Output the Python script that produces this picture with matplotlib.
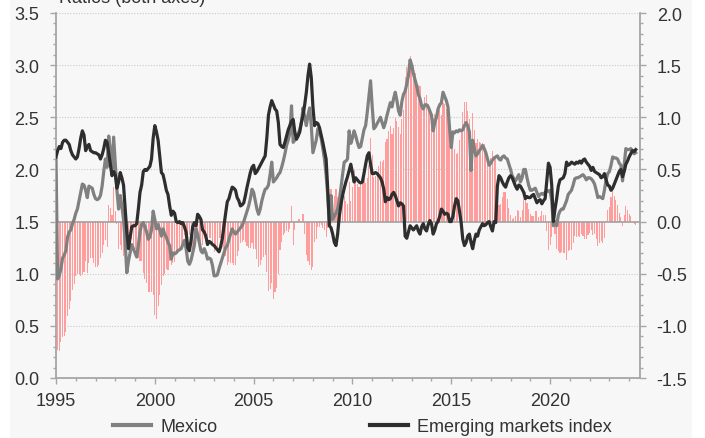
import numpy as np
import matplotlib
matplotlib.use("Agg")
import matplotlib.pyplot as plt
from matplotlib.lines import Line2D
from matplotlib.patches import Rectangle
from matplotlib.ticker import MultipleLocator

plt.rcParams['font.family'] = ['Liberation Sans', 'DejaVu Sans']

start_year = 1995
# Monthly ratios, Jan 1995 .. May 2024
mexico = [
    2.10, 0.95, 0.98, 1.05, 1.15, 1.18, 1.22, 1.35, 1.40, 1.42, 1.48, 1.52,  # 1995
    1.58, 1.62, 1.70, 1.78, 1.86, 1.85, 1.80, 1.73, 1.84, 1.83, 1.82, 1.76,  # 1996
    1.72, 1.71, 1.72, 1.75, 1.84, 1.98, 2.10, 2.02, 2.32, 2.18, 2.00, 2.31,  # 1997
    2.05, 1.80, 1.62, 1.75, 1.65, 1.52, 1.30, 1.01, 1.12, 1.20, 1.28, 1.24,  # 1998
    1.20, 1.16, 1.27, 1.40, 1.47, 1.49, 1.45, 1.40, 1.33, 1.35, 1.42, 1.60,  # 1999
    1.52, 1.43, 1.47, 1.42, 1.36, 1.43, 1.38, 1.35, 1.30, 1.27, 1.14, 1.20,  # 2000
    1.19, 1.20, 1.22, 1.23, 1.24, 1.28, 1.32, 1.24, 1.12, 1.09, 1.13, 1.20,  # 2001
    1.27, 1.43, 1.38, 1.30, 1.22, 1.20, 1.24, 1.20, 1.14, 1.15, 1.14, 1.08,  # 2002
    0.98, 0.98, 0.99, 1.05, 1.10, 1.15, 1.20, 1.25, 1.27, 1.33, 1.38, 1.43,  # 2003
    1.40, 1.38, 1.40, 1.42, 1.44, 1.46, 1.50, 1.55, 1.60, 1.65, 1.72, 1.81,  # 2004
    1.78, 1.70, 1.62, 1.57, 1.62, 1.70, 1.76, 1.81, 1.82, 1.85, 1.95, 2.07,  # 2005
    1.88, 1.90, 1.92, 1.95, 1.97, 2.02, 2.08, 2.15, 2.23, 2.28, 2.35, 2.61,  # 2006
    2.26, 2.28, 2.30, 2.34, 2.38, 2.45, 2.59, 2.50, 2.42, 2.52, 2.59, 2.42,  # 2007
    2.16, 2.22, 2.28, 2.39, 2.35, 2.30, 2.20, 2.10, 1.95, 1.75, 1.46, 1.75,  # 2008
    1.52, 1.55, 1.58, 1.62, 1.70, 1.82, 1.95, 2.07, 2.08, 2.10, 2.37, 2.25,  # 2009
    2.30, 2.37, 2.32, 2.26, 2.21, 2.22, 2.30, 2.38, 2.42, 2.55, 2.70, 2.85,  # 2010
    2.60, 2.39, 2.41, 2.44, 2.47, 2.50, 2.45, 2.40, 2.45, 2.52, 2.58, 2.64,  # 2011
    2.60, 2.68, 2.74, 2.66, 2.56, 2.52, 2.65, 2.72, 2.75, 2.82, 2.90, 3.05,  # 2012
    3.00, 2.92, 2.86, 2.80, 2.72, 2.68, 2.61, 2.58, 2.62, 2.62, 2.60, 2.56,  # 2013
    2.52, 2.37, 2.45, 2.50, 2.58, 2.62, 2.64, 2.74, 2.70, 2.66, 2.60, 2.39,  # 2014
    2.21, 2.36, 2.35, 2.37, 2.36, 2.38, 2.37, 2.38, 2.42, 2.45, 2.42, 2.36,  # 2015
    1.99, 2.28, 2.20, 2.13, 2.15, 2.18, 2.20, 2.23, 2.20, 2.16, 2.10, 2.04,  # 2016
    2.06, 2.09, 2.11, 2.12, 2.13, 2.10, 2.09, 2.12, 2.13, 2.11, 2.10, 2.05,  # 2017
    2.00, 1.94, 1.91, 1.89, 1.92, 1.95, 1.88, 1.92, 2.00, 2.00, 1.92, 1.85,  # 2018
    1.80, 1.80, 1.81, 1.82, 1.78, 1.74, 1.76, 1.77, 1.76, 1.78, 1.80, 1.79,  # 2019
    1.80, 1.70, 1.46, 1.50, 1.46, 1.56, 1.60, 1.62, 1.62, 1.66, 1.70, 1.76,  # 2020
    1.78, 1.80, 1.85, 1.91, 1.92, 1.92, 1.93, 1.94, 1.95, 1.93, 1.90, 1.92,  # 2021
    1.92, 1.91, 1.89, 1.86, 1.80, 1.73, 1.74, 1.73, 1.72, 1.80, 1.90, 1.96,  # 2022
    1.98, 2.04, 2.12, 2.11, 2.11, 2.10, 2.06, 2.04, 1.89, 2.04, 2.20, 2.19,  # 2023
    2.19, 2.20, 2.18, 2.15, 2.16,                                            # 2024
]
emerging = [
    2.12, 2.18, 2.22, 2.20, 2.26, 2.28, 2.28, 2.26, 2.24, 2.18, 2.14, 2.12,  # 1995
    2.10, 2.12, 2.20, 2.30, 2.37, 2.33, 2.18, 2.22, 2.24, 2.18, 2.17, 2.16,  # 1996
    2.16, 2.15, 2.14, 2.10, 2.14, 2.20, 2.28, 2.26, 2.16, 2.05, 1.94, 1.98,  # 1997
    1.95, 1.82, 1.88, 1.97, 1.92, 1.85, 1.62, 1.40, 1.24, 1.35, 1.45, 1.46,  # 1998
    1.46, 1.48, 1.62, 1.78, 1.85, 1.98, 2.00, 1.99, 2.01, 2.03, 2.10, 2.30,  # 1999
    2.42, 2.36, 2.28, 2.12, 1.97, 1.95, 1.88, 1.80, 1.76, 1.65, 1.56, 1.60,  # 2000
    1.58, 1.50, 1.49, 1.50, 1.48, 1.49, 1.45, 1.40, 1.25, 1.22, 1.32, 1.45,  # 2001
    1.49, 1.46, 1.57, 1.55, 1.52, 1.42, 1.40, 1.36, 1.28, 1.31, 1.30, 1.28,  # 2002
    1.27, 1.25, 1.23, 1.21, 1.26, 1.34, 1.46, 1.58, 1.69, 1.72, 1.78, 1.83,  # 2003
    1.82, 1.80, 1.73, 1.70, 1.65, 1.66, 1.68, 1.75, 1.83, 1.90, 1.97, 2.02,  # 2004
    2.04, 1.96, 1.98, 2.01, 2.04, 2.07, 2.10, 2.13, 2.30, 2.52, 2.60, 2.66,  # 2005
    2.62, 2.58, 2.56, 2.45, 2.24, 2.22, 2.21, 2.26, 2.32, 2.38, 2.42, 2.46,  # 2006
    2.48, 2.36, 2.29, 2.32, 2.36, 2.45, 2.52, 2.62, 2.74, 2.90, 3.01, 2.88,  # 2007
    2.60, 2.42, 2.45, 2.44, 2.40, 2.33, 2.26, 2.18, 2.10, 1.81, 1.46, 1.44,  # 2008
    1.38, 1.30, 1.27, 1.38, 1.55, 1.66, 1.75, 1.82, 1.88, 1.93, 1.99, 2.05,  # 2009
    1.97, 1.88, 1.92, 1.90, 1.88, 1.87, 1.88, 1.96, 2.05, 2.13, 2.16, 2.05,  # 2010
    1.96, 1.96, 1.97, 1.96, 1.94, 1.92, 1.88, 1.81, 1.69, 1.73, 1.71, 1.72,  # 2011
    1.76, 1.78, 1.75, 1.70, 1.65, 1.68, 1.67, 1.65, 1.36, 1.34, 1.40, 1.46,  # 2012
    1.44, 1.42, 1.44, 1.46, 1.41, 1.38, 1.45, 1.48, 1.43, 1.41, 1.47, 1.51,  # 2013
    1.48, 1.38, 1.42, 1.48, 1.50, 1.55, 1.62, 1.60, 1.57, 1.58, 1.57, 1.50,  # 2014
    1.50, 1.55, 1.65, 1.72, 1.70, 1.60, 1.49, 1.33, 1.27, 1.30, 1.36, 1.38,  # 2015
    1.30, 1.24, 1.32, 1.38, 1.36, 1.42, 1.45, 1.48, 1.46, 1.47, 1.49, 1.50,  # 2016
    1.45, 1.41, 1.50, 1.49, 1.84, 1.94, 1.92, 1.88, 1.85, 1.83, 1.88, 1.92,  # 2017
    1.94, 1.92, 1.88, 1.84, 1.81, 1.85, 1.84, 1.81, 1.78, 1.72, 1.74, 1.73,  # 2018
    1.73, 1.75, 1.76, 1.72, 1.68, 1.70, 1.71, 1.67, 1.70, 1.72, 1.89, 2.06,  # 2019
    2.02, 1.85, 1.50, 1.62, 1.72, 1.84, 1.90, 1.91, 1.92, 1.96, 2.07, 2.04,  # 2020
    2.05, 2.07, 2.06, 2.05, 2.07, 2.06, 2.08, 2.06, 2.09, 2.10, 2.07, 2.05,  # 2021
    2.03, 1.99, 2.02, 1.98, 1.97, 1.96, 1.95, 1.92, 1.93, 1.96, 1.90, 1.85,  # 2022
    1.84, 1.80, 1.82, 1.86, 1.90, 1.94, 1.98, 2.00, 1.93, 1.98, 2.05, 2.08,  # 2023
    2.12, 2.15, 2.18, 2.17, 2.19,                                            # 2024
]
labels = ["Mexico", "Emerging markets index"]
title = "Ratios (both axes)"

mex = np.array(mexico)
em = np.array(emerging)
t = start_year + np.arange(len(mex)) / 12.0
diff = mex - em

W, H = 705, 439
fig = plt.figure(figsize=(W / 100, H / 100), dpi=100, facecolor='white')
fig.patches.append(Rectangle((10 / W, 0), (692 - 10) / W, 1, transform=fig.transFigure,
                             facecolor='#f7f7f7', edgecolor='none', zorder=-10))

left, right, bottom, top = 56 / W, 640 / W, 1 - 379 / H, 1 - 14 / H
ax = fig.add_axes([left, bottom, right - left, top - bottom])
ax2 = ax.twinx()
ax.set_zorder(ax2.get_zorder() + 1)
ax.patch.set_visible(False)
ax2.patch.set_facecolor('#f7f7f7')

bar_col = '#ff9c9c'
ax2.bar(t, diff, width=0.055, color=bar_col, edgecolor='none', zorder=2)
ax2.set_ylim(-1.5, 2.0)

ax.set_ylim(0, 3.5)
ax.set_xlim(1995, 2024.55)
for yv in [0.5, 1.0, 2.0, 2.5, 3.0, 3.5]:
    ax.axhline(yv, color='#c8c8c8', lw=0.8, ls=(0, (1, 1.5)), zorder=1)
ax.axhline(1.5, color='#a0a0a0', lw=1.2, zorder=2)

gray = '#808080'
dark = '#2e2e2e'
ax.plot(t, mex, color=gray, lw=2.3, zorder=3, solid_joinstyle='round')
ax.plot(t, em, color=dark, lw=2.3, zorder=4, solid_joinstyle='round')

spine_col = '#a6a6a6'
for a in (ax, ax2):
    for s in a.spines.values():
        s.set_visible(False)
ax.spines['left'].set_visible(True)
ax.spines['bottom'].set_visible(True)
ax2.spines['right'].set_visible(True)
for s in (ax.spines['left'], ax.spines['bottom'], ax2.spines['right']):
    s.set_color(spine_col)
    s.set_linewidth(1.3)

fs = 13
txt_col = '#333333'
ax.yaxis.set_major_locator(MultipleLocator(0.5))
ax.yaxis.set_minor_locator(MultipleLocator(0.1))
ax.yaxis.set_major_formatter(matplotlib.ticker.FormatStrFormatter('%.1f'))
ax2.yaxis.set_major_locator(MultipleLocator(0.5))
ax2.yaxis.set_minor_locator(MultipleLocator(0.1))
ax2.yaxis.set_major_formatter(matplotlib.ticker.FormatStrFormatter('%.1f'))
ax.set_xticks([1995, 2000, 2005, 2010, 2015, 2020])
ax.xaxis.set_minor_locator(MultipleLocator(1))

ax.tick_params(axis='y', which='major', length=4, width=1, color=spine_col,
               labelsize=fs, labelcolor=txt_col, pad=8)
ax.tick_params(axis='y', which='minor', length=2.5, width=1, color=spine_col)
ax.tick_params(axis='x', which='major', length=4, width=1, color=spine_col,
               labelsize=fs, labelcolor=txt_col, pad=6)
ax.tick_params(axis='x', which='minor', length=2.5, width=1, color=spine_col)
ax2.tick_params(axis='y', which='major', length=4, width=1, color=spine_col,
                labelsize=fs, labelcolor=txt_col, pad=8)
ax2.tick_params(axis='y', which='minor', length=2.5, width=1, color=spine_col)
ax2.tick_params(axis='x', which='both', bottom=False, labelbottom=False)

fig.text(59 / W, 1 - 2.7 / H, title, fontsize=fs, color=txt_col, va='baseline', ha='left')

handles = [Line2D([], [], color=gray, lw=3), Line2D([], [], color=dark, lw=3)]
fig.legend(handles, labels, loc='center left', bbox_to_anchor=(113 / W, 1 - 428 / H),
           ncol=2, frameon=False, fontsize=fs, handlelength=2.1, handletextpad=0.55,
           columnspacing=8.4, borderpad=0, borderaxespad=0, labelcolor=txt_col)

fig.savefig('out.png', dpi=100, facecolor='white')
